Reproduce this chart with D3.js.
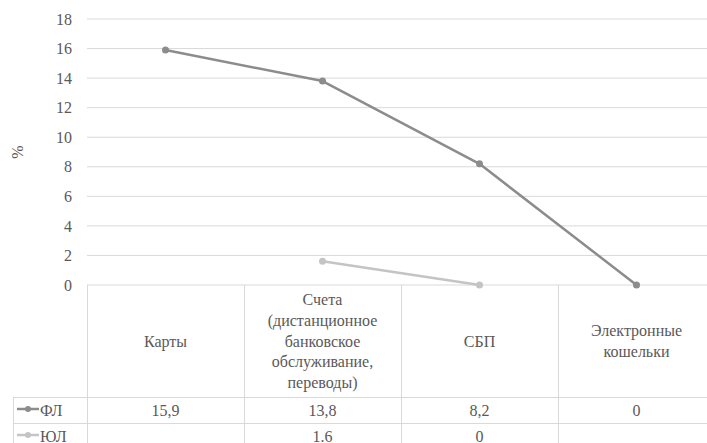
<!DOCTYPE html>
<html>
<head>
<meta charset="utf-8">
<script src="https://cdn.jsdelivr.net/npm/d3@7"></script>
<style>
  text, tspan { font-family: "Liberation Serif", serif; }
</style>
</head>
<body style="margin:0">
<svg id="s" width="707" height="443"></svg>
<script>
// Categories of payment channels
const categories = [
  ["Карты"],
  ["Счета", "(дистанционное", "банковское", "обслуживание,", "переводы)"],
  ["СБП"],
  ["Электронные", "кошельки"]
];
// Series values (null = no value)
const seriesNames = ["ФЛ", "ЮЛ"];
const valuesFL = [15.9, 13.8, 8.2, 0];
const valuesUL = [null, 1.6, 0, null];
const decimalSep = [",", "."];
const yTicks = [0, 2, 4, 6, 8, 10, 12, 14, 16, 18];

const colors = ["#8c8c8c", "#c4c4c4"];
const textColor = "#595959";
const gridColor = "#d9d9d9";
const fam = "Liberation Serif";
const fs = 16;

const svg = d3.select("#s");
const plotLeft = 87, plotRight = 715, plotTop = 19, plotBottom = 285;
const headerBottom = 397, rowH = 26, tableLeft = 13;

const x = d3.scaleBand().domain(d3.range(categories.length)).range([plotLeft, plotRight]);
const y = d3.scaleLinear().domain([0, 18]).range([plotBottom, plotTop]);

// Horizontal gridlines
svg.append("g").selectAll("line").data(yTicks).join("line")
  .attr("x1", plotLeft).attr("x2", plotRight)
  .attr("y1", d => y(d)).attr("y2", d => y(d))
  .attr("stroke", gridColor).attr("stroke-width", 1);

// Y axis labels (axis generator for positions)
const gy = svg.append("g").attr("transform", `translate(${plotLeft},0)`)
  .call(d3.axisLeft(y).tickValues(yTicks).tickSize(0).tickPadding(15));
gy.attr("font-family", fam).attr("font-size", fs);
gy.select(".domain").remove();
gy.selectAll("text").attr("font-family", fam).attr("font-size", fs).attr("fill", textColor);

// Y axis title
svg.append("text").attr("font-family", fam).attr("font-size", fs).attr("fill", textColor)
  .attr("transform", `translate(23,${(plotTop + plotBottom) / 2}) rotate(-90)`)
  .attr("text-anchor", "middle").text("%");

// Data table grid
const tbl = svg.append("g").attr("stroke", gridColor).attr("stroke-width", 1).attr("shape-rendering", "crispEdges");
const tableBottom = headerBottom + rowH * 2;
[0, 1, 2, 3].forEach(i => {
  tbl.append("line").attr("x1", x(i)).attr("x2", x(i)).attr("y1", plotBottom).attr("y2", tableBottom + 10);
});
tbl.append("line").attr("x1", tableLeft).attr("x2", tableLeft).attr("y1", headerBottom).attr("y2", tableBottom + 10);
[headerBottom, headerBottom + rowH].forEach(yy => {
  tbl.append("line").attr("x1", tableLeft).attr("x2", plotRight).attr("y1", yy).attr("y2", yy);
});

// Category header text, one text element per line
const lineH = 20.7;
categories.forEach((lines, i) => {
  const cx = x(i) + x.bandwidth() / 2;
  const cy = (plotBottom + headerBottom) / 2;
  lines.forEach((ln, j) => {
    svg.append("text").attr("font-family", fam).attr("font-size", fs).attr("fill", textColor)
      .attr("text-anchor", "middle").attr("x", cx)
      .attr("y", cy + (j - (lines.length - 1) / 2) * lineH + 5.5)
      .text(ln);
  });
});

// Lines and markers
const allSeries = [valuesFL, valuesUL];
const lineGen = d3.line()
  .defined(d => d != null)
  .x((d, i) => x(i) + x.bandwidth() / 2)
  .y(d => y(d));

allSeries.forEach((vals, s) => {
  svg.append("path").datum(vals).attr("d", lineGen)
    .attr("fill", "none").attr("stroke", colors[s]).attr("stroke-width", 2.5)
    .attr("stroke-linejoin", "round");
  svg.append("g").selectAll("circle")
    .data(vals.map((v, i) => ({ v, i })).filter(d => d.v != null))
    .join("circle")
    .attr("cx", d => x(d.i) + x.bandwidth() / 2).attr("cy", d => y(d.v))
    .attr("r", 3.5).attr("fill", colors[s]);
});

// Table rows: legend keys and values
allSeries.forEach((vals, s) => {
  const rowMid = headerBottom + rowH * s + rowH / 2;
  svg.append("line").attr("x1", 17).attr("x2", 39).attr("y1", rowMid - 1).attr("y2", rowMid - 1)
    .attr("stroke", colors[s]).attr("stroke-width", 2.5);
  svg.append("circle").attr("cx", 28).attr("cy", rowMid - 1).attr("r", 3).attr("fill", colors[s]);
  svg.append("text").attr("font-family", fam).attr("font-size", fs).attr("fill", textColor)
    .attr("x", 40).attr("y", rowMid + 5.5).text(seriesNames[s]);
  vals.forEach((v, i) => {
    if (v == null) return;
    svg.append("text").attr("font-family", fam).attr("font-size", fs).attr("fill", textColor)
      .attr("x", x(i) + x.bandwidth() / 2).attr("y", rowMid + 5.5)
      .attr("text-anchor", "middle")
      .text(String(v).replace(".", decimalSep[s]));
  });
});
</script>
</body>
</html>
